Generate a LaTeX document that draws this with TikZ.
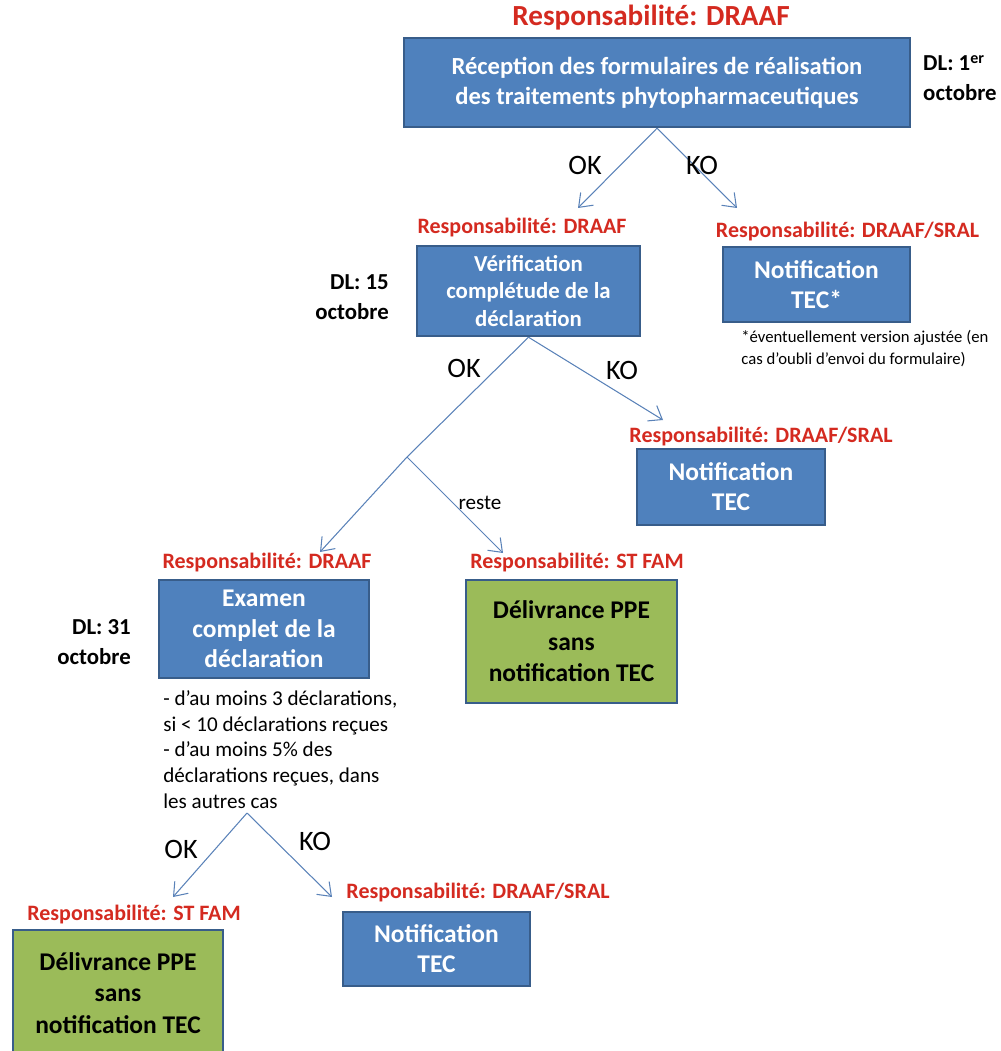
\documentclass[tikz,border=0pt]{standalone}
\usepackage{fontspec}
\setmainfont{Carlito}
\usepackage{xcolor}
\usetikzlibrary{arrows.meta}
\definecolor{boxblue}{HTML}{4F81BD}
\definecolor{boxedge}{HTML}{385D8A}
\definecolor{boxgreen}{HTML}{9BBB59}
\definecolor{respred}{HTML}{D42A20}
\definecolor{linkblue}{HTML}{5A82B8}

\begin{document}
\begin{tikzpicture}[x=0.2mm, y=-0.2mm, >={Straight Barb[length=2.4mm,width=3.6mm]},
  box/.style={draw=boxedge, fill=boxblue, line width=1.4pt, text=white, align=center, inner sep=0pt},
  greenbox/.style={box, fill=boxgreen, text=black},
  resplabel/.style={text=respred, font=\bfseries\fontsize{12.5}{15}\selectfont},
  dl/.style={font=\bfseries\fontsize{13}{17}\selectfont},
  branch/.style={font=\fontsize{16}{19}\selectfont},
  link/.style={draw=linkblue, line width=0.6pt}]
  \useasboundingbox (0,0) rectangle (1000,1051);

  % Reception
  \node[resplabel, font=\bfseries\fontsize{16.6}{19}\selectfont] (resp1) at (651,18) {Responsabilité: DRAAF};
  \node[box, minimum width=101.2mm, minimum height=17.8mm, font=\bfseries\fontsize{14}{17}\selectfont] (recep) at (657,82.5)
    {Réception des formulaires de réalisation\\des traitements phytopharmaceutiques};
  \node[dl, align=left, anchor=west] (dl1) at (917,78) {DL: 1\textsuperscript{er}\\octobre};

  % Verification / notification
  \node[resplabel] (resp2) at (522,228) {Responsabilité: DRAAF};
  \node[box, minimum width=44.6mm, minimum height=18mm, font=\bfseries\fontsize{13}{15.6}\selectfont] (verif) at (528.5,291)
    {Vérification\\complétude de la\\déclaration};
  \node[dl, align=right, anchor=east] (dl2) at (395,297) {DL: 15\\octobre};
  \node[resplabel] (resp3) at (847.5,232) {Responsabilité: DRAAF/SRAL};
  \node[box, minimum width=37.4mm, minimum height=15mm, font=\bfseries\fontsize{14.5}{17}\selectfont] (notif1) at (816.5,284.5)
    {Notification\\TEC*};
  \node[align=left, anchor=west, inner sep=0pt, font=\fontsize{9.5}{12.5}\selectfont] (note) at (741,349)
    {*éventuellement version ajustée (en\\cas d’oubli d’envoi du formulaire)};

  \coordinate (okA) at (578,208);
  \coordinate (koA) at (737,208);
  \draw[link, ->] (recep.south) -- (okA);
  \draw[link, ->] (recep.south) -- (koA);
  \node[branch] (ok1) at (585,165) {OK};
  \node[branch] (ko1) at (702,165) {KO};

  % Second level
  \node[resplabel] (resp4) at (761,437) {Responsabilité: DRAAF/SRAL};
  \node[box, minimum width=37.6mm, minimum height=15.2mm, font=\bfseries\fontsize{14.5}{17}\selectfont] (notif2) at (731,487)
    {Notification\\TEC};

  \coordinate (split) at (407,457);
  \coordinate (koB) at (663,420);
  \draw[link] (verif.south) -- (split);
  \draw[link, ->] (verif.south) -- (koB);
  \node[branch] (ok2) at (464,368) {OK};
  \node[branch] (ko2) at (622,370) {KO};

  \coordinate (okB) at (320,552);
  \coordinate (restB) at (503,553);
  \draw[link, ->] (split) -- (okB);
  \draw[link, ->] (split) -- (restB);
  \node[font=\fontsize{12}{14}\selectfont] (reste) at (480,503) {reste};

  % Examen
  \node[resplabel] (resp5) at (267,563) {Responsabilité: DRAAF};
  \node[box, minimum width=42mm, minimum height=19.6mm, font=\bfseries\fontsize{14.5}{17.5}\selectfont] (exam) at (264,629)
    {Examen\\complet de la\\déclaration};
  \node[dl, align=right, anchor=east] (dl3) at (137,642) {DL: 31\\octobre};
  \node[resplabel] (resp6) at (577,563) {Responsabilité: ST FAM};
  \node[greenbox, minimum width=42.2mm, minimum height=24.6mm, font=\bfseries\fontsize{14.5}{18}\selectfont] (deliv1) at (571.5,641.5)
    {Délivrance PPE\\sans\\notification TEC};
  \node[align=left, anchor=north west, inner sep=0pt, font=\fontsize{12}{14.7}\selectfont] (crit) at (163,690)
    {- d’au moins 3 déclarations,\\si < 10 déclarations reçues\\- d’au moins 5\% des\\déclarations reçues, dans\\les autres cas};

  % Last level
  \coordinate (apex) at (247,813);
  \coordinate (okC) at (173,897);
  \coordinate (koC) at (332,897);
  \draw[link, ->] (apex) -- (okC);
  \draw[link, ->] (apex) -- (koC);
  \node[branch] (ok3) at (181,849) {OK};
  \node[branch] (ko3) at (315,841) {KO};

  \node[resplabel] (resp7) at (134,915) {Responsabilité: ST FAM};
  \node[greenbox, minimum width=42mm, minimum height=25.2mm, font=\bfseries\fontsize{14.5}{18}\selectfont] (deliv2) at (118,993)
    {Délivrance PPE\\sans\\notification TEC};
  \node[resplabel] (resp8) at (478,893) {Responsabilité: DRAAF/SRAL};
  \node[box, minimum width=37.4mm, minimum height=14.8mm, font=\bfseries\fontsize{14.5}{17}\selectfont] (notif3) at (436.5,949)
    {Notification\\TEC};
\end{tikzpicture}
\end{document}
